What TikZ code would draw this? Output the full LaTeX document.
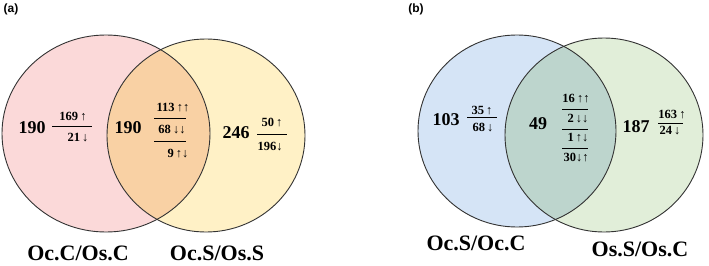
\documentclass[tikz,border=0pt]{standalone}
\usepackage{fontspec}
\setmainfont{Liberation Serif}
\setsansfont{Liberation Sans}
\definecolor{pinkA}{HTML}{FBD9D9}
\definecolor{yellowA}{HTML}{FFF1C6}
\definecolor{orangeA}{HTML}{F9D1A4}
\definecolor{blueB}{HTML}{D5E4F6}
\definecolor{greenB}{HTML}{E1EED9}
\definecolor{tealB}{HTML}{BDD5CD}
\begin{document}
\begin{tikzpicture}[x=1pt,y=-1pt,
  outline/.style={draw=black!80,line width=0.9pt},
  big/.style={font=\fontsize{18}{18}\selectfont\bfseries,inner sep=0pt},
  small/.style={font=\fontsize{12.5}{13}\selectfont\bfseries,inner sep=0pt},
  setlab/.style={font=\fontsize{22}{22}\selectfont\bfseries,inner sep=0pt},
  panel/.style={font=\fontsize{12}{12}\selectfont\sffamily\bfseries,inner sep=0pt},
  bar/.style={line width=0.8pt}]
\useasboundingbox (0,0) rectangle (709,265);
\fill[white] (0,0) rectangle (709,265);
% ---------- panel (a)
\fill[pinkA] (106,133.5) ellipse [x radius=104,y radius=98.5];
\fill[yellowA] (206,135.5) ellipse [x radius=99,y radius=96.5];
\begin{scope}
\clip (106,133.5) ellipse [x radius=104,y radius=98.5];
\fill[orangeA] (206,135.5) ellipse [x radius=99,y radius=96.5];
\end{scope}
\draw[outline] (106,133.5) ellipse [x radius=104,y radius=98.5];
\draw[outline] (206,135.5) ellipse [x radius=99,y radius=96.5];
\node[panel] (pa) at (11,9) {(a)};
\node[big] (a1) at (32,128) {190};
\node[small] (a1u) at (73,117) {169\,↑};
\node[small] (a1d) at (78,138) {21\,↓};
\draw[bar] (52,126) -- (92,126);
\node[big] (a2) at (128,128) {190};
\node[small] (a2a) at (173,108) {113\,↑↑};
\draw[bar] (154,118) -- (186,118);
\node[small] (a2b) at (172,130) {68\,↓↓};
\draw[bar] (154,141) -- (186,141);
\node[small] (a2c) at (178,154) {9\,↑↓};
\node[big] (a3) at (236,133) {246};
\node[small] (a3u) at (272,123) {50\,↑};
\draw[bar] (257,134) -- (287,134);
\node[small] (a3d) at (270,147) {196↓};
\node[setlab] (la) at (78,253) {Oc.C/Os.C};
\node[setlab] (lb) at (217,253) {Oc.S/Os.S};
% ---------- panel (b)
\fill[blueB] (517,131) ellipse [x radius=99,y radius=96];
\fill[greenB] (604,135) ellipse [x radius=99,y radius=97];
\begin{scope}
\clip (517,131) ellipse [x radius=99,y radius=96];
\fill[tealB] (604,135) ellipse [x radius=99,y radius=97];
\end{scope}
\draw[outline] (517,131) ellipse [x radius=99,y radius=96];
\draw[outline] (604,135) ellipse [x radius=99,y radius=97];
\node[panel] (pb) at (416,9) {(b)};
\node[big] (b1) at (446,120) {103};
\node[small] (b1u) at (482,111) {35\,↑};
\draw[bar] (467,117) -- (497,117);
\node[small] (b1d) at (483,128) {68\,↓};
\node[big] (b2) at (538,124) {49};
\node[small] (b2a) at (576,99) {16\,↑↑};
\draw[bar] (562,109) -- (588,109);
\node[small] (b2b) at (578,119) {2\,↓↓};
\draw[bar] (562,129) -- (588,129);
\node[small] (b2c) at (578,138) {1\,↑↓};
\draw[bar] (562,148) -- (588,148);
\node[small] (b2d) at (576,158) {30↓↑};
\node[big] (b3) at (636,127) {187};
\node[small] (b3u) at (672,115) {163\,↑};
\draw[bar] (658,123) -- (683,123);
\node[small] (b3d) at (670,131) {24\,↓};
\node[setlab] (lc) at (476,243) {Oc.S/Oc.C};
\node[setlab] (ld) at (640,249) {Os.S/Os.C};
\end{tikzpicture}
\end{document}
